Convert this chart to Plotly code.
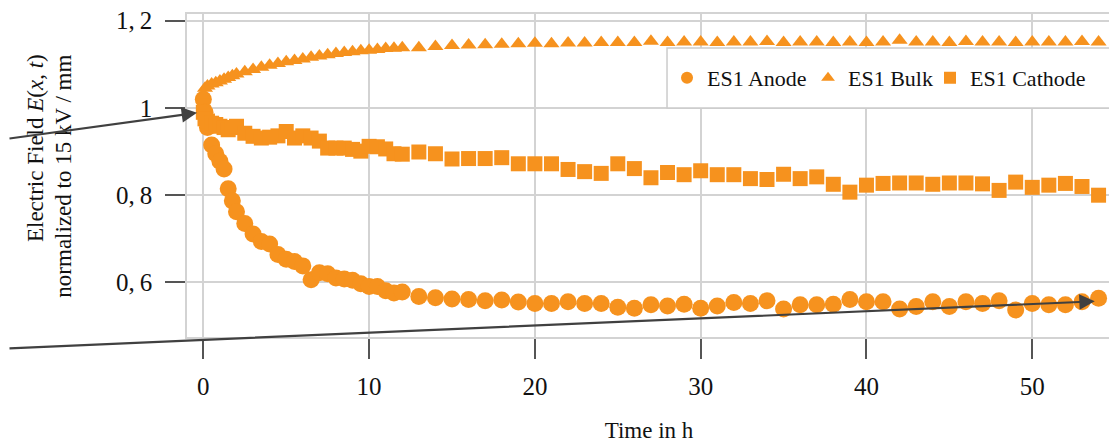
import plotly.graph_objects as go

# ---------------- data ----------------
time_h = [0, 0.1, 0.25, 0.5, 0.75, 1, 1.25, 1.5, 1.75, 2,
          2.5, 3, 3.5, 4, 4.5, 5, 5.5, 6, 6.5, 7, 7.5, 8, 8.5, 9, 9.5, 10, 10.5, 11, 11.5, 12,
          13, 14, 15, 16, 17, 18, 19, 20, 21, 22, 23, 24, 25, 26, 27, 28, 29, 30, 31, 32, 33,
          34, 35, 36, 37, 38, 39, 40, 41, 42, 43, 44, 45, 46, 47, 48, 49, 50, 51, 52, 53, 54]

es1_anode = [1.02, 0.99, 0.955, 0.915, 0.895, 0.878, 0.86, 0.815, 0.787, 0.762,
             0.735, 0.711, 0.694, 0.688, 0.664, 0.653, 0.648, 0.638, 0.606, 0.622,
             0.620, 0.610, 0.608, 0.605, 0.597, 0.591, 0.591, 0.581, 0.576, 0.578,
             0.568, 0.565, 0.562, 0.561, 0.558, 0.560, 0.555, 0.552, 0.552, 0.556,
             0.552, 0.552, 0.543, 0.541, 0.549, 0.546, 0.550, 0.541, 0.546, 0.554,
             0.552, 0.558, 0.539, 0.549, 0.549, 0.550, 0.561, 0.556, 0.556, 0.539,
             0.545, 0.556, 0.545, 0.556, 0.552, 0.558, 0.537, 0.552, 0.549, 0.549,
             0.556, 0.564]

es1_bulk = [1.03, 1.045, 1.05, 1.055, 1.058, 1.062, 1.066, 1.07, 1.074, 1.078,
            1.083, 1.088, 1.093, 1.098, 1.102, 1.106, 1.109, 1.112, 1.116, 1.119,
            1.122, 1.125, 1.127, 1.129, 1.131, 1.132, 1.134, 1.136, 1.137, 1.138,
            1.138, 1.141, 1.143, 1.144, 1.145, 1.146, 1.147, 1.148, 1.147, 1.149,
            1.149, 1.150, 1.150, 1.150, 1.153, 1.150, 1.151, 1.151, 1.150, 1.151,
            1.151, 1.152, 1.150, 1.151, 1.151, 1.150, 1.151, 1.150, 1.151, 1.155,
            1.151, 1.151, 1.150, 1.152, 1.151, 1.151, 1.150, 1.151, 1.151, 1.151,
            1.152, 1.151]

es1_cathode = [0.99, 0.975, 0.97, 0.965, 0.962, 0.958, 0.955, 0.95, 0.955, 0.958,
               0.942, 0.935, 0.931, 0.933, 0.936, 0.946, 0.931, 0.936, 0.931, 0.924,
               0.908, 0.908, 0.908, 0.905, 0.901, 0.912, 0.911, 0.906, 0.895, 0.894,
               0.899, 0.895, 0.883, 0.884, 0.884, 0.886, 0.872, 0.872, 0.872, 0.859,
               0.854, 0.850, 0.872, 0.861, 0.840, 0.852, 0.847, 0.856, 0.847, 0.847,
               0.838, 0.836, 0.848, 0.838, 0.842, 0.825, 0.807, 0.823, 0.827, 0.828,
               0.828, 0.825, 0.828, 0.828, 0.826, 0.811, 0.830, 0.818, 0.823, 0.827,
               0.820, 0.800]

x_tick_vals = [0, 10, 20, 30, 40, 50]
y_tick_vals = [0.6, 0.8, 1.0, 1.2]
y_tick_text = ["0,\u20096", "0,\u20098", "1", "1,\u20092"]

# ---------------- style ----------------
ORANGE = "#F6921E"
SERIF = "Liberation Serif, Times New Roman, serif"
GRID = "#d3d3d3"
TICK = "#555555"
ARROW = "#404040"
TEXT = "#111111"

fig = go.Figure()
series = [("ES1 Anode", es1_anode, "circle", 17, 96),
          ("ES1 Bulk", es1_bulk, "triangle-up", 14, 77),
          ("ES1 Cathode", es1_cathode, "square", 15, 135)]
for name, vals, sym, size, lw in series:
    fig.add_trace(go.Scatter(
        x=time_h, y=vals, name=name, mode="markers", legendwidth=lw,
        marker=dict(symbol=sym, size=size, color=ORANGE, line=dict(width=0)),
    ))

# legend frame (white box with light border, drawn over grid and marks)
fig.add_shape(type="rect", xref="paper", yref="paper",
              x0=0.5195, x1=1.0025, y0=0.709, y1=0.8947,
              fillcolor="white", line=dict(color="#cccccc", width=1.5), layer="above")

# the page body adds an 8 px offset, so the figure is 8 px smaller than the window
fig.update_layout(
    width=1109, height=435,
    margin=dict(l=179, r=6, t=6, b=106, autoexpand=False),
    paper_bgcolor="white", plot_bgcolor="white",
    font=dict(family=SERIF, color=TEXT, size=22),
    showlegend=True,
    legend=dict(
        orientation="h", x=0.5195, y=0.802, xanchor="left", yanchor="middle",
        bgcolor="rgba(0,0,0,0)", borderwidth=0,
        font=dict(family=SERIF, size=22, color=TEXT),
        itemsizing="constant",
    ),
    xaxis=dict(
        range=[-0.985, 54.75], tickvals=x_tick_vals,
        showgrid=True, gridcolor=GRID, gridwidth=1.5,
        showline=True, linecolor=GRID, linewidth=1.5, mirror=True,
        ticks="outside", ticklen=20, tickcolor=TICK, tickwidth=1.5,
        tickfont=dict(family=SERIF, size=25, color=TEXT), ticklabelstandoff=6,
        ticklabeloverflow="allow",
        zeroline=False,
        title=dict(text="Time in h", font=dict(family=SERIF, size=23, color=TEXT), standoff=24),
    ),
    yaxis=dict(
        range=[0.475, 1.2153], tickvals=y_tick_vals, ticktext=y_tick_text,
        showgrid=True, gridcolor=GRID, gridwidth=1.5,
        showline=True, linecolor=GRID, linewidth=1.5, mirror=True,
        ticks="outside", ticklen=20, tickcolor=TICK, tickwidth=1.5,
        tickfont=dict(family=SERIF, size=25, color=TEXT), ticklabelstandoff=8,
        ticklabeloverflow="allow",
        zeroline=False,
    ),
)

# y-axis title (two lines)
fig.add_annotation(text="Electric Field <i>E</i>(<i>x</i>, <i>t</i>)", textangle=-90,
                   xref="paper", yref="paper", x=-0.1645, y=0.585,
                   xanchor="center", yanchor="middle", showarrow=False,
                   font=dict(family=SERIF, size=23, color=TEXT))
fig.add_annotation(text="normalized to 15 kV / mm", textangle=-90,
                   xref="paper", yref="paper", x=-0.134, y=0.497,
                   xanchor="center", yanchor="middle", showarrow=False,
                   font=dict(family=SERIF, size=23, color=TEXT))

# arrows
fig.add_annotation(x=-0.38, y=0.989, xref="x", yref="y", ax=-197, ay=26,
                   text="", showarrow=True, arrowhead=2, arrowsize=1.4,
                   arrowwidth=2.2, arrowcolor=ARROW)
fig.add_annotation(x=53.77, y=0.5567, xref="x", yref="y", ax=-1095, ay=47,
                   text="", showarrow=True, arrowhead=2, arrowsize=1.4,
                   arrowwidth=2.2, arrowcolor=ARROW)

fig.write_html("out.html")
